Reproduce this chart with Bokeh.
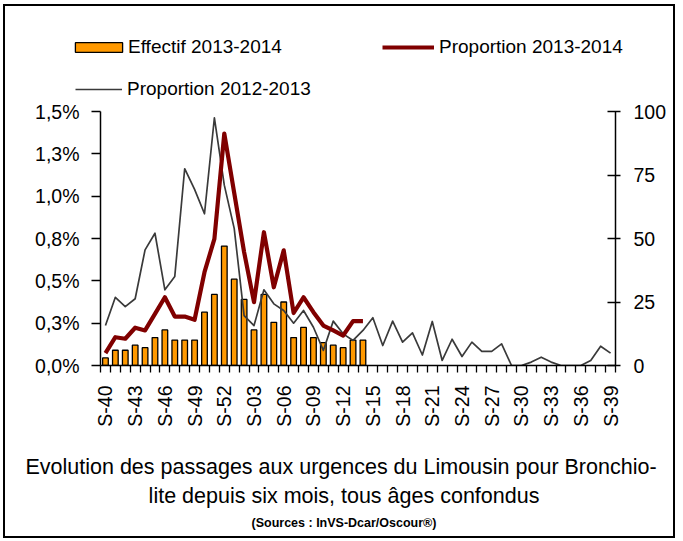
import math
import numpy as np
from bokeh.plotting import figure
from bokeh.layouts import column
from bokeh.models import (Range1d, LinearAxis, FixedTicker, ColumnDataSource,
                          Legend, LegendItem, Label)
from bokeh.core.properties import value
from bokeh.embed import file_html
from bokeh.resources import INLINE

# ---------------- data ----------------
weeks = ["S-40", "S-41", "S-42", "S-43", "S-44", "S-45", "S-46", "S-47", "S-48",
         "S-49", "S-50", "S-51", "S-52", "S-01", "S-02", "S-03", "S-04", "S-05",
         "S-06", "S-07", "S-08", "S-09", "S-10", "S-11", "S-12", "S-13", "S-14",
         "S-15", "S-16", "S-17", "S-18", "S-19", "S-20", "S-21", "S-22", "S-23",
         "S-24", "S-25", "S-26", "S-27", "S-28", "S-29", "S-30", "S-31", "S-32",
         "S-33", "S-34", "S-35", "S-36", "S-37", "S-38", "S-39"]

# Effectif 2013-2014 (right axis, counts) S-40 .. S-14
effectif_2013_2014 = [3, 6, 6, 8, 7, 11, 14, 10, 10, 10, 21, 28, 47, 34, 26, 14,
                      28, 17, 25, 11, 15, 11, 9, 8, 7, 10, 10]

# Proportion 2013-2014 (left axis, %) S-40 .. S-14
prop_2013_2014 = [0.073, 0.167, 0.158, 0.223, 0.207, 0.305, 0.403, 0.289, 0.289,
                  0.270, 0.551, 0.748, 1.370, 1.020, 0.670, 0.374, 0.787, 0.462,
                  0.680, 0.310, 0.403, 0.315, 0.236, 0.207, 0.177, 0.262, 0.262]

# Proportion 2012-2013 (left axis, %) S-40 .. S-39
prop_2012_2013 = [0.236, 0.403, 0.348, 0.394, 0.683, 0.781, 0.447, 0.526, 1.162,
                  1.040, 0.896, 1.463, 1.065, 0.810, 0.295, 0.236, 0.447, 0.364,
                  0.325, 0.250, 0.325, 0.226, 0.089, 0.262, 0.187, 0.148, 0.207,
                  0.282, 0.118, 0.262, 0.138, 0.193, 0.062, 0.260, 0.030, 0.155,
                  0.053, 0.138, 0.083, 0.083, 0.128, 0.000, 0.000, 0.020, 0.049,
                  0.020, 0.000, 0.000, 0.000, 0.030, 0.114, 0.073]

left_ticks = [0.0, 0.25, 0.5, 0.75, 1.0, 1.25, 1.5]
left_tick_labels = ["0,0%", "0,3%", "0,5%", "0,8%", "1,0%", "1,3%", "1,5%"]
right_ticks = [0, 25, 50, 75, 100]
label_step = 3

series_names = ["Effectif 2013-2014", "Proportion 2013-2014", "Proportion 2012-2013"]
title_line1 = "Evolution des passages aux urgences  du Limousin pour Bronchio-"
title_line2 = "lite depuis six mois, tous âges confondus"
source_line = "(Sources : InVS-Dcar/Oscour®)"

FONT = "Liberation Sans"
BAR_FILL = "#FF9900"
RED = "#800000"
GRAY = "#3a3a3a"

W = 668            # content width (inside the black border)
TOP_H = 94         # legend strip
MAIN_H = 340       # chart
BOT_H = 96         # caption strip

# ---------------- main chart ----------------
n = len(weeks)
idx = list(range(n))
nb = len(effectif_2013_2014)

p = figure(width=W, height=MAIN_H,
           min_border_left=95, min_border_right=58,
           min_border_top=11, min_border_bottom=75,
           x_range=Range1d(-0.5, n - 0.5), y_range=Range1d(0, 1.5),
           output_backend="svg", toolbar_location=None, tools="", title=None)
p.frame_align = False
p.extra_y_ranges = {"eff": Range1d(0, 100)}
p.outline_line_color = None
p.grid.visible = False

xa = p.xaxis[0]
xa.ticker = FixedTicker(ticks=idx[::label_step],
                        minor_ticks=[i - 0.5 for i in range(n + 1)])
xa.major_label_overrides = {i: weeks[i] for i in idx[::label_step]}
xa.major_label_orientation = math.pi / 2
xa.major_tick_line_color = None
xa.major_tick_in = 0
xa.major_tick_out = 0
xa.minor_tick_in = 0
xa.minor_tick_out = 7
xa.minor_tick_line_color = "black"
xa.minor_tick_line_width = 1.3
xa.axis_line_width = 1.5
xa.major_label_standoff = 13
xa.major_label_text_font = FONT
xa.major_label_text_font_size = "19.5px"
xa.major_label_text_color = "black"

ya = p.yaxis[0]
ya.ticker = FixedTicker(ticks=left_ticks, minor_ticks=[])
ya.major_label_overrides = dict(zip(left_ticks, left_tick_labels))
ya.major_tick_in = 0
ya.major_tick_out = 9
ya.major_tick_line_width = 1.3
ya.axis_line_width = 1.5
ya.major_label_standoff = 12
ya.major_label_text_font = FONT
ya.major_label_text_font_size = "19.5px"
ya.major_label_text_color = "black"

ra = LinearAxis(y_range_name="eff")
ra.ticker = FixedTicker(ticks=right_ticks, minor_ticks=[])
ra.major_tick_in = 8
ra.major_tick_out = 5
ra.major_tick_line_width = 1.3
ra.axis_line_width = 1.5
ra.major_label_standoff = 13
ra.major_label_text_font = FONT
ra.major_label_text_font_size = "19.5px"
ra.major_label_text_color = "black"
p.add_layout(ra, "right")

src_bar = ColumnDataSource(dict(x=idx[:nb], top=effectif_2013_2014))
p.vbar(x="x", top="top", width=0.57, source=src_bar, y_range_name="eff",
       fill_color=BAR_FILL, line_color="black", line_width=1.3)
src_gray = ColumnDataSource(dict(x=idx, y=prop_2012_2013))
p.line(x="x", y="y", source=src_gray, line_color=GRAY, line_width=1.7,
       line_join="round")
src_red = ColumnDataSource(dict(x=idx[:len(prop_2013_2014)], y=prop_2013_2014))
p.line(x="x", y="y", source=src_red, line_color=RED, line_width=4.2,
       line_join="round")


def strip(h):
    f = figure(frame_width=W, frame_height=h, min_border=0, min_border_left=0,
               min_border_right=0, min_border_top=0, min_border_bottom=0,
               x_range=Range1d(0, W), y_range=Range1d(0, h),
               x_axis_type=None, y_axis_type=None,
               output_backend="svg", toolbar_location=None, tools="", title=None)
    f.frame_align = False
    f.outline_line_color = None
    f.grid.visible = False
    return f


# ---------------- legend strip ----------------
pt = strip(TOP_H)
# legend swatches only (no visible data: a single NaN point)
swatch = ColumnDataSource(dict(x=np.array([np.nan]), y=np.array([np.nan])))
lg_bar = pt.vbar(x="x", top="y", width=0.5, source=swatch, fill_color=BAR_FILL,
                 line_color="black", line_width=1.3)
lg_red = pt.line(x="x", y="y", source=swatch, line_color=RED, line_width=4.2)
lg_gray = pt.line(x="x", y="y", source=swatch, line_color=GRAY, line_width=1.7)


def make_legend(label, rend, loc, gw, gh, standoff):
    lg = Legend(items=[LegendItem(label=value(label), renderers=[rend])],
                location=loc, orientation="horizontal",
                glyph_width=gw, glyph_height=gh, label_height=gh,
                label_standoff=standoff, padding=0, margin=0, spacing=0,
                border_line_color=None, background_fill_alpha=0,
                label_text_font=FONT, label_text_font_size="19px",
                label_text_color="black")
    pt.add_layout(lg)


make_legend(series_names[0], lg_bar, (64, 42), 59, 12, 0)
make_legend(series_names[1], lg_red, (377, 42), 52, 22, 5)
make_legend(series_names[2], lg_gray, (70, 0), 47, 22, 5)

# ---------------- caption strip ----------------
pb = strip(BOT_H)
for txt, ypos, size, style in [(title_line1, 70, "21.5px", "normal"),
                               (title_line2, 41, "21.5px", "normal"),
                               (source_line, 14, "12.5px", "bold")]:
    pb.add_layout(Label(x=338.5, y=ypos, text=txt, text_align="center",
                        text_baseline="middle", text_font=FONT,
                        text_font_size=size, text_font_style=style,
                        text_color="black"))

layout = column(pt, p, pb, spacing=0)
layout.styles = {"border": "2px solid black", "margin-left": "3px",
                 "margin-top": "4px"}

open("out.html", "w").write(file_html(layout, INLINE))
